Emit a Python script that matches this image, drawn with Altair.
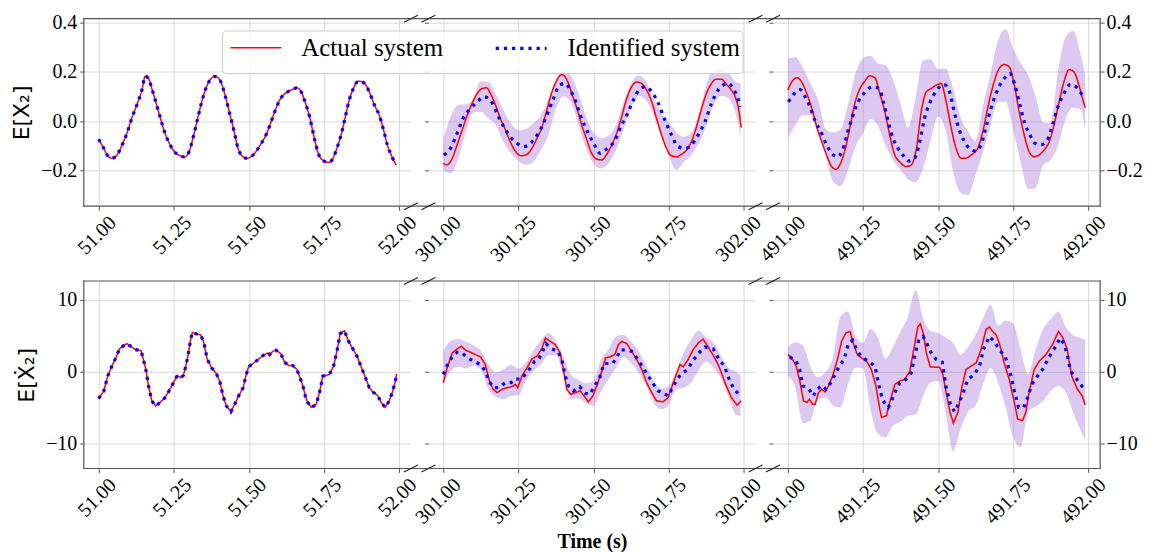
import altair as alt
import pandas as pd

# ---------------------------------------------------------------- data
SERIES = ["Actual system", "Identified system"]
STARTS = [51.0, 301.0, 491.0]
BAND_T = [round(0.025 * k, 3) for k in range(40)] + [0.99]

# top row  E[X2]  (time offsets inside each 1 s window)
top1_t = [0.000, 0.017, 0.030, 0.044, 0.061, 0.077, 0.094, 0.110, 0.127, 0.144,
          0.155, 0.166, 0.177, 0.190, 0.204, 0.221, 0.238, 0.254, 0.271, 0.287,
          0.301, 0.315, 0.331, 0.343, 0.356, 0.370, 0.387, 0.400, 0.411, 0.422,
          0.436, 0.451, 0.464, 0.477, 0.492, 0.506, 0.522, 0.539, 0.558, 0.575,
          0.591, 0.608, 0.624, 0.641, 0.661, 0.674, 0.687, 0.702, 0.718, 0.731,
          0.749, 0.765, 0.779, 0.793, 0.807, 0.820, 0.834, 0.849, 0.864, 0.878,
          0.893, 0.906, 0.919, 0.934, 0.948, 0.961, 0.975, 0.990]
top1_v = [-0.074, -0.111, -0.141, -0.151, -0.138, -0.100, -0.050, 0.011, 0.065, 0.126,
          0.182, 0.173, 0.132, 0.078, 0.018, -0.050, -0.097, -0.127, -0.141, -0.146,
          -0.124, -0.064, 0.018, 0.078, 0.130, 0.166, 0.181, 0.173, 0.146, 0.099,
          0.031, -0.043, -0.111, -0.141, -0.151, -0.146, -0.127, -0.095, -0.054, 0.000,
          0.054, 0.096, 0.115, 0.126, 0.135, 0.119, 0.078, 0.018, -0.070, -0.131,
          -0.162, -0.168, -0.154, -0.111, -0.057, 0.011, 0.085, 0.135, 0.162, 0.159,
          0.139, 0.103, 0.062, 0.024, -0.034, -0.097, -0.141, -0.178]

top2_act_t = [0.000, 0.013, 0.030, 0.046, 0.063, 0.080, 0.096, 0.113, 0.129, 0.144,
              0.157, 0.174, 0.190, 0.207, 0.223, 0.240, 0.259, 0.279, 0.295, 0.312,
              0.329, 0.345, 0.362, 0.378, 0.395, 0.412, 0.428, 0.445, 0.461, 0.478,
              0.494, 0.511, 0.528, 0.544, 0.561, 0.577, 0.594, 0.611, 0.627, 0.644,
              0.660, 0.677, 0.694, 0.710, 0.727, 0.743, 0.760, 0.777, 0.793, 0.810,
              0.826, 0.843, 0.860, 0.876, 0.893, 0.909, 0.926, 0.942, 0.959, 0.973,
              0.985, 0.992]
top2_act_v = [-0.172, -0.178, -0.151, -0.097, -0.036, 0.024, 0.072, 0.112, 0.132, 0.135,
              0.112, 0.065, 0.011, -0.036, -0.084, -0.122, -0.141, -0.135, -0.111, -0.070,
              -0.023, 0.045, 0.119, 0.166, 0.189, 0.166, 0.112, 0.051, -0.016, -0.077,
              -0.131, -0.155, -0.158, -0.135, -0.097, -0.050, 0.018, 0.092, 0.139, 0.159,
              0.153, 0.126, 0.078, 0.011, -0.057, -0.111, -0.141, -0.145, -0.135, -0.118,
              -0.084, -0.023, 0.051, 0.112, 0.153, 0.170, 0.170, 0.150, 0.126, 0.095,
              0.036, -0.027]
top2_idf_t = [0.002, 0.024, 0.046, 0.069, 0.091, 0.113, 0.135, 0.157, 0.179, 0.201,
              0.223, 0.246, 0.268, 0.284, 0.301, 0.323, 0.345, 0.367, 0.387, 0.406,
              0.423, 0.439, 0.456, 0.472, 0.489, 0.506, 0.522, 0.539, 0.555, 0.572,
              0.588, 0.611, 0.633, 0.655, 0.671, 0.694, 0.716, 0.738, 0.760, 0.782,
              0.804, 0.826, 0.848, 0.871, 0.893, 0.915, 0.931, 0.948, 0.965, 0.981,
              0.989]
top2_idf_v = [-0.138, -0.111, -0.050, 0.018, 0.051, 0.078, 0.099, 0.085, 0.031, -0.023,
              -0.064, -0.091, -0.104, -0.097, -0.077, -0.036, 0.024, 0.092, 0.146, 0.153,
              0.126, 0.085, 0.024, -0.023, -0.064, -0.104, -0.131, -0.118, -0.104, -0.077,
              -0.030, 0.024, 0.085, 0.132, 0.139, 0.119, 0.072, 0.004, -0.057, -0.104,
              -0.111, -0.097, -0.057, -0.003, 0.072, 0.126, 0.146, 0.153, 0.132, 0.092,
              0.058]
top2_hi = [-0.070, 0.018, 0.065, 0.068, 0.092, 0.162, 0.159, 0.108, 0.045, -0.009,
           -0.036, -0.032, -0.009, 0.024, 0.089, 0.165, 0.207, 0.184, 0.112, 0.018,
           -0.046, -0.070, -0.059, -0.016, 0.078, 0.153, 0.184, 0.162, 0.089, 0.038,
           -0.003, -0.043, -0.064, -0.050, 0.024, 0.146, 0.207, 0.216, 0.193, 0.159,
           0.153]
top2_lo = [-0.199, -0.212, -0.151, -0.043, 0.035, 0.038, 0.011, -0.016, -0.084, -0.131,
           -0.162, -0.178, -0.165, -0.118, -0.057, 0.051, 0.100, 0.078, -0.016, -0.111,
           -0.172, -0.192, -0.172, -0.118, -0.036, 0.051, 0.103, 0.085, 0.024, -0.064,
           -0.138, -0.199, -0.168, -0.138, -0.091, -0.023, 0.065, 0.103, 0.092, 0.024,
           -0.064]

top3_act_t = [0.000, 0.013, 0.030, 0.046, 0.063, 0.080, 0.096, 0.113, 0.129, 0.146,
              0.160, 0.173, 0.190, 0.207, 0.223, 0.240, 0.256, 0.273, 0.290, 0.306,
              0.323, 0.339, 0.356, 0.372, 0.394, 0.411, 0.428, 0.444, 0.461, 0.477,
              0.494, 0.510, 0.527, 0.544, 0.560, 0.577, 0.593, 0.610, 0.632, 0.649,
              0.665, 0.682, 0.698, 0.720, 0.737, 0.754, 0.770, 0.787, 0.803, 0.820,
              0.836, 0.853, 0.870, 0.886, 0.903, 0.919, 0.936, 0.952, 0.969, 0.980,
              0.990]
top3_act_v = [0.126, 0.159, 0.176, 0.159, 0.112, 0.051, -0.023, -0.084, -0.138, -0.185,
              -0.196, -0.178, -0.118, -0.023, 0.072, 0.132, 0.162, 0.184, 0.176, 0.112,
              0.038, -0.057, -0.138, -0.165, -0.185, -0.178, -0.111, 0.038, 0.119, 0.132,
              0.146, 0.153, 0.078, -0.030, -0.111, -0.151, -0.151, -0.138, -0.111, -0.043,
              0.051, 0.139, 0.200, 0.230, 0.220, 0.146, 0.038, -0.057, -0.124, -0.145,
              -0.138, -0.118, -0.084, -0.016, 0.078, 0.159, 0.209, 0.200, 0.146, 0.095,
              0.054]
top3_idf_t = [0.002, 0.019, 0.041, 0.057, 0.074, 0.091, 0.107, 0.129, 0.146, 0.166,
              0.182, 0.198, 0.215, 0.234, 0.256, 0.282, 0.304, 0.319, 0.334, 0.350,
              0.367, 0.383, 0.402, 0.422, 0.439, 0.455, 0.474, 0.494, 0.519, 0.538,
              0.555, 0.569, 0.588, 0.607, 0.627, 0.643, 0.660, 0.676, 0.693, 0.720,
              0.739, 0.754, 0.770, 0.787, 0.806, 0.823, 0.842, 0.864, 0.881, 0.897,
              0.919, 0.941, 0.963, 0.986]
top3_idf_v = [0.078, 0.108, 0.128, 0.099, 0.058, 0.000, -0.036, -0.097, -0.131, -0.145,
              -0.118, -0.050, 0.018, 0.078, 0.116, 0.139, 0.132, 0.072, -0.003, -0.070,
              -0.111, -0.138, -0.162, -0.151, -0.084, 0.011, 0.078, 0.122, 0.149, 0.119,
              0.031, -0.030, -0.084, -0.114, -0.122, -0.097, -0.023, 0.051, 0.112, 0.173,
              0.193, 0.153, 0.078, -0.003, -0.057, -0.091, -0.097, -0.077, -0.016, 0.051,
              0.112, 0.149, 0.135, 0.092]
top3_hi = [0.254, 0.259, 0.216, 0.153, 0.089, -0.030, -0.046, -0.036, 0.065, 0.193,
           0.254, 0.265, 0.234, 0.227, 0.168, 0.072, -0.027, 0.089, 0.247, 0.251,
           0.211, 0.214, 0.132, 0.014, -0.043, -0.081, 0.065, 0.193, 0.328, 0.373,
           0.295, 0.236, 0.186, 0.099, -0.005, -0.009, 0.207, 0.342, 0.366, 0.268,
           0.186]
top3_lo = [-0.070, -0.016, 0.024, 0.024, -0.050, -0.138, -0.246, -0.264, -0.199, -0.104,
           -0.051, 0.008, -0.019, -0.097, -0.158, -0.199, -0.236, -0.249, -0.192, -0.081,
           0.018, -0.036, -0.205, -0.291, -0.300, -0.219, -0.124, -0.016, 0.078, 0.078,
           -0.036, -0.165, -0.277, -0.273, -0.178, -0.158, -0.097, 0.011, 0.054, 0.045,
           -0.036]

# bottom row  E[dX2/dt]
bot1_t = [0.000, 0.017, 0.031, 0.044, 0.057, 0.069, 0.080, 0.094, 0.110, 0.122,
          0.141, 0.149, 0.157, 0.166, 0.177, 0.190, 0.204, 0.221, 0.234, 0.249,
          0.262, 0.273, 0.282, 0.290, 0.298, 0.306, 0.312, 0.326, 0.339, 0.350,
          0.361, 0.376, 0.390, 0.403, 0.414, 0.425, 0.440, 0.453, 0.466, 0.481,
          0.490, 0.499, 0.514, 0.528, 0.547, 0.564, 0.569, 0.580, 0.591, 0.606,
          0.619, 0.632, 0.646, 0.660, 0.669, 0.680, 0.688, 0.696, 0.709, 0.724,
          0.735, 0.746, 0.757, 0.768, 0.782, 0.793, 0.804, 0.818, 0.832, 0.845,
          0.860, 0.873, 0.886, 0.901, 0.915, 0.928, 0.941, 0.954, 0.967, 0.978,
          0.987, 0.992]
bot1_v = [-3.72, -2.67, -0.51, 0.78, 1.93, 3.17, 3.54, 3.91, 3.45, 3.08,
          2.94, 1.70, 0.32, -1.98, -4.05, -4.74, -4.28, -3.59, -2.67, -1.52,
          -0.51, -0.83, -0.51, 0.78, 2.39, 4.46, 5.47, 5.24, 5.15, 4.09,
          1.79, 0.55, -0.14, -1.29, -3.36, -4.74, -5.56, -4.51, -3.36, -2.21,
          -0.60, 0.69, 1.15, 1.61, 2.25, 2.62, 2.39, 2.85, 2.99, 2.53,
          1.33, 0.87, 0.87, 0.32, -0.69, -1.98, -3.36, -4.28, -4.97, -4.51,
          -2.90, -0.60, -0.51, -0.37, 0.78, 2.85, 5.29, 5.70, 4.23, 3.26,
          2.16, 0.78, -0.60, -2.21, -2.90, -3.26, -4.28, -4.97, -4.05, -2.80,
          -1.43, -0.28]

bot2_act_t = [0.000, 0.013, 0.030, 0.046, 0.061, 0.074, 0.091, 0.107, 0.124, 0.140,
              0.152, 0.166, 0.179, 0.196, 0.212, 0.229, 0.240, 0.248, 0.262, 0.279,
              0.295, 0.312, 0.329, 0.340, 0.356, 0.373, 0.389, 0.400, 0.411, 0.425,
              0.439, 0.456, 0.473, 0.483, 0.498, 0.511, 0.528, 0.540, 0.555, 0.571,
              0.583, 0.594, 0.611, 0.627, 0.644, 0.660, 0.677, 0.694, 0.710, 0.732,
              0.749, 0.760, 0.774, 0.788, 0.799, 0.815, 0.832, 0.849, 0.865, 0.882,
              0.899, 0.915, 0.926, 0.940, 0.959, 0.978, 0.992]
bot2_act_v = [-1.52, 0.55, 2.62, 3.17, 3.54, 2.99, 2.71, 2.39, 2.07, 1.01,
              -1.06, -2.44, -2.90, -2.44, -2.21, -2.07, -1.75, -2.21, -0.60, 0.55,
              1.79, 2.16, 3.31, 4.69, 4.23, 3.77, 2.62, 0.32, -2.44, -3.13,
              -2.90, -2.67, -3.59, -4.18, -3.36, -1.98, 0.09, 1.93, 2.07, 2.39,
              3.77, 4.23, 3.91, 2.85, 1.70, 0.41, -1.52, -2.90, -4.05, -4.18,
              -3.59, -2.21, -0.60, 1.01, 0.69, 1.70, 3.08, 4.00, 4.55, 3.45,
              2.25, 1.01, -0.14, -1.75, -3.59, -4.64, -4.05]
bot2_idf_t = [0.000, 0.013, 0.030, 0.046, 0.063, 0.080, 0.102, 0.124, 0.140, 0.152,
              0.167, 0.185, 0.207, 0.226, 0.240, 0.257, 0.273, 0.290, 0.304, 0.317,
              0.329, 0.342, 0.362, 0.382, 0.395, 0.406, 0.417, 0.434, 0.454, 0.472,
              0.489, 0.503, 0.519, 0.535, 0.546, 0.564, 0.577, 0.590, 0.611, 0.627,
              0.644, 0.660, 0.677, 0.696, 0.716, 0.732, 0.749, 0.763, 0.777, 0.793,
              0.812, 0.832, 0.851, 0.871, 0.899, 0.918, 0.935, 0.954, 0.970, 0.987]
bot2_idf_v = [-0.37, 0.87, 2.07, 2.71, 2.62, 1.93, 1.47, 1.01, 0.09, -1.29,
              -2.21, -2.21, -1.52, -1.52, -0.97, -1.06, -0.37, 0.55, 1.47, 1.70,
              2.71, 3.91, 3.17, 2.85, 1.61, -0.60, -1.98, -2.67, -2.07, -2.99,
              -3.13, -1.98, -1.06, 1.15, 1.15, 1.15, 1.93, 3.08, 2.99, 2.85,
              1.93, 0.87, -0.23, -1.52, -2.67, -2.99, -3.36, -2.21, -1.15, -0.23,
              0.23, 1.61, 2.62, 3.45, 3.17, 1.70, 0.87, -1.29, -2.53, -3.26]
bot2_hi = [2.85, 4.32, 4.55, 4.14, 3.68, 2.94, 1.01, -0.05, 0.32, 0.97,
           0.46, 1.29, 2.94, 4.37, 5.38, 4.23, 2.07, -0.37, -1.10, -1.61,
           -1.20, 1.70, 3.08, 4.92, 5.10, 4.23, 2.90, 0.92, -1.15, -2.34,
           -1.98, -0.05, 2.62, 4.46, 5.75, 4.83, 4.00, 2.16, 0.55, 0.00,
           -0.60]
bot2_lo = [-1.75, 0.09, 0.69, 0.46, 0.87, 0.32, -2.44, -3.49, -3.82, -3.36,
           -3.26, -1.29, 0.09, 1.01, 2.25, 2.34, -0.60, -3.82, -3.72, -4.37,
           -4.74, -2.67, -1.06, 0.51, 2.07, 1.24, -0.14, -1.84, -4.28, -5.20,
           -4.64, -2.44, -2.21, -1.52, 0.18, 1.43, 0.55, -1.06, -3.59, -6.02,
           -6.11]

bot3_act_t = [0.000, 0.013, 0.028, 0.041, 0.052, 0.063, 0.072, 0.082, 0.091, 0.102,
              0.113, 0.124, 0.135, 0.149, 0.165, 0.179, 0.193, 0.207, 0.218, 0.231,
              0.245, 0.262, 0.278, 0.293, 0.306, 0.312, 0.328, 0.339, 0.356, 0.373,
              0.389, 0.406, 0.422, 0.433, 0.441, 0.452, 0.461, 0.474, 0.488, 0.505,
              0.516, 0.527, 0.540, 0.551, 0.566, 0.579, 0.593, 0.610, 0.627, 0.643,
              0.660, 0.671, 0.682, 0.693, 0.704, 0.720, 0.737, 0.754, 0.765, 0.781,
              0.792, 0.803, 0.820, 0.837, 0.859, 0.881, 0.901, 0.916, 0.930, 0.945,
              0.964, 0.980, 0.990]
bot3_act_v = [2.39, 1.93, 0.78, -1.52, -4.05, -4.28, -3.82, -4.51, -4.51, -2.90,
              -2.44, -2.80, -1.98, -0.60, 1.70, 4.23, 5.38, 5.61, 4.00, 2.39,
              1.93, 1.47, 0.32, -1.98, -5.20, -6.34, -6.11, -4.28, -1.75, -1.29,
              -1.06, 0.09, 3.77, 6.30, 6.67, 5.15, 2.62, 0.69, 0.64, 0.64,
              -0.37, -2.90, -5.66, -7.13, -5.66, -2.21, 0.32, 0.78, 1.24, 3.08,
              5.93, 6.21, 5.61, 5.15, 4.00, 1.24, -1.06, -4.28, -6.57, -6.80,
              -5.66, -2.90, 0.32, 1.47, 2.39, 3.77, 5.61, 4.69, 3.08, -0.60,
              -2.44, -3.36, -4.64]
bot3_idf_t = [0.006, 0.028, 0.039, 0.050, 0.069, 0.085, 0.098, 0.113, 0.127, 0.143,
              0.157, 0.171, 0.187, 0.202, 0.216, 0.229, 0.245, 0.268, 0.290, 0.301,
              0.315, 0.334, 0.345, 0.356, 0.373, 0.393, 0.411, 0.422, 0.436, 0.450,
              0.463, 0.477, 0.494, 0.514, 0.527, 0.541, 0.555, 0.570, 0.582, 0.599,
              0.621, 0.638, 0.651, 0.671, 0.687, 0.704, 0.724, 0.743, 0.754, 0.768,
              0.785, 0.798, 0.812, 0.831, 0.848, 0.870, 0.892, 0.906, 0.919, 0.930,
              0.941, 0.958, 0.975, 0.989]
bot3_idf_v = [2.07, 1.47, 0.32, -1.98, -2.34, -3.36, -2.44, -1.89, -2.44, -1.52,
              -0.37, 0.78, 1.70, 4.00, 4.37, 3.08, 2.07, 1.47, 0.78, -1.52,
              -3.91, -4.97, -4.05, -2.90, -1.52, -1.06, -0.14, 2.16, 4.46, 4.92,
              3.91, 2.62, 1.70, 1.33, -2.21, -4.51, -5.56, -4.28, -3.13, -1.06,
              -0.37, 0.78, 3.08, 4.92, 4.23, 3.08, 2.07, -0.60, -2.67, -4.97,
              -4.97, -3.59, -1.75, -0.60, 0.32, 2.07, 3.54, 4.69, 3.91, 2.39,
              0.09, -0.83, -1.75, -2.67]
bot3_hi = [3.31, 4.09, 3.63, 0.78, -0.78, -0.05, 1.93, 7.68, 8.37, 4.92,
           4.00, 5.93, 4.69, 1.79, 3.49, 5.61, 7.68, 11.36, 7.45, 5.66,
           5.38, 4.78, 4.00, 2.39, 3.45, 5.15, 7.45, 9.29, 6.39, 7.13,
           6.67, 3.08, -0.37, 3.08, 5.93, 7.31, 8.32, 6.21, 5.06, 4.69,
           4.46]
bot3_lo = [-0.60, -2.21, -7.13, -6.80, -3.82, -3.59, -4.64, -4.97, -1.75, 0.55,
           0.51, -5.20, -8.64, -9.10, -7.49, -6.94, -6.11, -5.98, -3.36, -1.52,
           -1.29, -5.66, -11.08, -7.95, -5.56, -4.74, -1.75, 0.51, -1.52, -4.97,
           -9.10, -10.48, -5.56, -4.83, -4.05, -2.67, -1.98, -2.80, -5.66, -8.18,
           -9.56]

# axis settings per row
Y_DOMAINS = [[-0.346, 0.416], [-13.45, 12.62]]
Y_TICKS = [[-0.2, 0.0, 0.2, 0.4], [-10, 0, 10]]
Y_FORMATS = [".1f", "d"]
Y_TITLES = ["E[X\u2082]", "E[\u1E8A\u2082]"]
X_TITLE = "Time (s)"

# ---------------------------------------------------------------- style
SERIF = "Liberation Serif"
SANS = "DejaVu Sans"
SPINE = "#555555"
GRID = "#d9d9d9"
BAND = "#a875d9"
W, H = 328, 188
COL_GAP, ROW_GAP = 17.5, 75
MARGIN = 0.0495
# legend frame, in pixels relative to the top-left of the first panel
LEG_X, LEG_Y, LEG_W, LEG_H = 139, 12.3, 522, 42.7

color_scale = alt.Scale(domain=SERIES, range=["red", "blue"])
dash_scale = alt.Scale(domain=SERIES, range=[[1, 0], [3.2, 5]])
width_scale = alt.Scale(type="ordinal", domain=SERIES, range=[1.5, 3.2])

legend = alt.Legend(orient="none", legendX=146, legendY=2, direction="horizontal",
                    title=None, symbolType="stroke", symbolSize=2601,
                    labelFont=SERIF, labelFontSize=25, labelColor="black",
                    labelOffset=19, columnPadding=45, padding=0, labelLimit=400)


def line_frame(start, act_t, act_v, idf_t, idf_v):
    assert len(act_t) == len(act_v) and len(idf_t) == len(idf_v)
    rows = [(start + t, v, SERIES[0]) for t, v in zip(act_t, act_v)]
    rows += [(start + t, v, SERIES[1]) for t, v in zip(idf_t, idf_v)]
    return pd.DataFrame(rows, columns=["t", "v", "s"])


def band_frame(start, lo, hi):
    assert len(lo) == len(BAND_T) and len(hi) == len(BAND_T)
    return pd.DataFrame({"t": [start + t for t in BAND_T], "lo": lo, "hi": hi})


def frame_rules(col):
    ext = COL_GAP if col < 2 else 0
    spines = [(0, W + ext, 0, 0), (0, W + ext, H, H)]
    if col == 0:
        spines.append((0, 0, 0, H))
    if col == 2:
        spines.append((W, W, 0, H))
    corners = []
    if col < 2:
        corners += [(W, 0), (W, H)]
    if col > 0:
        corners += [(0, 0), (0, H)]
    breaks = [(cx - 7, cx + 7, cy + 3.5, cy - 3.5) for cx, cy in corners]
    cols = ["x", "x2", "y", "y2"]
    return pd.DataFrame(spines, columns=cols), pd.DataFrame(breaks, columns=cols)


def pixel_rule(df, **mark):
    return (alt.Chart(df).mark_rule(**mark)
            .encode(x=alt.X("x:Q", scale=None, axis=None), x2="x2:Q",
                    y=alt.Y("y:Q", scale=None, axis=None), y2="y2:Q"))


def panel(row, col, lines_df, band_df, interp):
    start = STARTS[col]
    xs = alt.Scale(domain=[start - MARGIN, start + 0.99 + MARGIN], nice=False, zero=False)
    ys = alt.Scale(domain=Y_DOMAINS[row], nice=False, zero=False)
    x_axis = alt.Axis(orient="bottom", values=[start + 0.25 * k for k in range(5)],
                      format=".2f", labelFont=SERIF, labelFontSize=20, labelColor="black",
                      labelAngle=-45, labelAlign="right", labelBaseline="middle",
                      labelOffset=14, labelPadding=9, labelFlush=False,
                      labelOverlap=False, grid=True,
                      title=X_TITLE if (row == 1 and col == 1) else None,
                      titleFont=SERIF, titleFontSize=20, titleFontWeight="bold",
                      titlePadding=4, titleColor="black")
    y_left = alt.Axis(orient="left", values=Y_TICKS[row], format=Y_FORMATS[row],
                      labels=(col == 0), labelFont=SERIF, labelFontSize=20,
                      labelColor="black", labelPadding=3, grid=True,
                      title=Y_TITLES[row] if col == 0 else None,
                      titleFont=SANS, titleFontSize=22, titleFontWeight="normal",
                      titlePadding=7, titleColor="black")
    y_right = alt.Axis(orient="right", values=Y_TICKS[row], format=Y_FORMATS[row],
                       labelFont=SERIF, labelFontSize=20, labelColor="black",
                       labelPadding=2, grid=False, title=None)

    layers = []
    if band_df is not None:
        layers.append(
            alt.Chart(band_df).mark_area(color=BAND, opacity=0.4, interpolate="monotone")
            .encode(x=alt.X("t:Q", scale=xs, axis=x_axis),
                    y=alt.Y("lo:Q", scale=ys, axis=y_left),
                    y2="hi:Q"))
    layers.append(
        alt.Chart(lines_df).mark_line(interpolate=interp)
        .encode(x=alt.X("t:Q", scale=xs, axis=x_axis),
                y=alt.Y("v:Q", scale=ys, axis=(y_right if col == 2 else y_left)),
                color=alt.Color("s:N", scale=color_scale, legend=legend),
                strokeDash=alt.StrokeDash("s:N", scale=dash_scale, legend=legend),
                strokeWidth=alt.StrokeWidth("s:N", scale=width_scale, legend=legend)))
    spines, breaks = frame_rules(col)
    layers.append(pixel_rule(spines, color=SPINE, strokeWidth=1.2, strokeCap="square"))
    layers.append(pixel_rule(breaks, color="#222222", strokeWidth=1.1))
    if row == 0 and col == 1:
        # legend frame (drawn in the second panel so it sits above the first one)
        off = -(W + COL_GAP)
        box = pd.DataFrame({"x": [off + LEG_X], "x2": [off + LEG_X + LEG_W],
                            "y": [LEG_Y], "y2": [LEG_Y + LEG_H]})
        layers.append(
            alt.Chart(box).mark_rect(fill="white", fillOpacity=0.8, stroke="#cccccc",
                                     strokeWidth=1, cornerRadius=4)
            .encode(x=alt.X("x:Q", scale=None, axis=None), x2="x2:Q",
                    y=alt.Y("y:Q", scale=None, axis=None), y2="y2:Q"))
    ch = alt.layer(*layers).properties(width=W, height=H)
    if col == 2:
        ch = ch.resolve_axis(y="independent")
    return ch


panels = [
    panel(0, 0, line_frame(STARTS[0], top1_t, top1_v, top1_t, top1_v), None, "monotone"),
    panel(0, 1, line_frame(STARTS[1], top2_act_t, top2_act_v, top2_idf_t, top2_idf_v),
          band_frame(STARTS[1], top2_lo, top2_hi), "monotone"),
    panel(0, 2, line_frame(STARTS[2], top3_act_t, top3_act_v, top3_idf_t, top3_idf_v),
          band_frame(STARTS[2], top3_lo, top3_hi), "monotone"),
    panel(1, 0, line_frame(STARTS[0], bot1_t, bot1_v, bot1_t, bot1_v), None, "linear"),
    panel(1, 1, line_frame(STARTS[1], bot2_act_t, bot2_act_v, bot2_idf_t, bot2_idf_v),
          band_frame(STARTS[1], bot2_lo, bot2_hi), "linear"),
    panel(1, 2, line_frame(STARTS[2], bot3_act_t, bot3_act_v, bot3_idf_t, bot3_idf_v),
          band_frame(STARTS[2], bot3_lo, bot3_hi), "linear"),
]

chart = (
    alt.concat(*panels, columns=3, spacing={"row": ROW_GAP, "column": COL_GAP},
               bounds="flush")
    .properties(padding={"left": 2, "top": 3, "right": 0, "bottom": 0})
    .configure(font=SERIF)
    .configure_view(stroke=None)
    .configure_axis(labelFont=SERIF, labelFontSize=20, labelColor="black",
                    tickColor=SPINE, tickSize=4, tickWidth=1,
                    gridColor=GRID, gridWidth=1, domain=False)
)

chart.save("out.html", embed_options={"renderer": "svg", "actions": False})
